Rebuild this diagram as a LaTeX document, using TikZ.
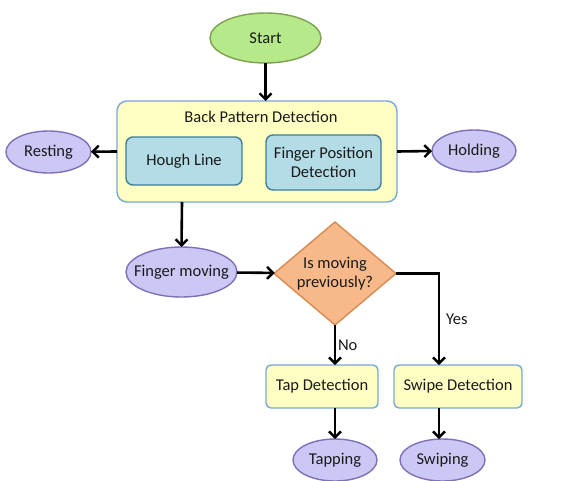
\documentclass[tikz,border=0pt]{standalone}
\usepackage{fontspec}
\setmainfont{Carlito}
\usetikzlibrary{shapes.geometric,arrows.meta}
\definecolor{startfill}{HTML}{B5E98A}
\definecolor{startdraw}{HTML}{7FA050}
\definecolor{ovfill}{HTML}{CCC8F5}
\definecolor{ovdraw}{HTML}{8070B8}
\definecolor{yfill}{HTML}{FFFFC4}
\definecolor{ydraw}{HTML}{78A8DA}
\definecolor{bfill}{HTML}{B4DCE6}
\definecolor{bdraw}{HTML}{3F7E96}
\definecolor{dfill}{HTML}{F8B98A}
\definecolor{ddraw}{HTML}{D98A50}
\definecolor{txt}{HTML}{1A1A1A}
\tikzset{
  every node/.style={font=\fontsize{16.5}{19}\selectfont, text=txt, outer sep=0pt, inner sep=1pt, align=center},
  oval/.style={ellipse, draw=ovdraw, fill=ovfill, line width=1.4pt, inner sep=0pt},
  startoval/.style={ellipse, draw=startdraw, fill=startfill, line width=1.4pt, inner sep=0pt},
  ybox/.style={rectangle, rounded corners=5pt, draw=ydraw, fill=yfill, line width=1.4pt},
  bbox/.style={rectangle, rounded corners=7pt, draw=bdraw, fill=bfill, line width=1.4pt},
  dia/.style={diamond, draw=ddraw, fill=dfill, line width=1.4pt, inner sep=0pt},
  conn/.style={line width=2.6pt, -{Straight Barb[length=6pt,width=12pt,line width=2.4pt]}},
}
\begin{document}
\begin{tikzpicture}[x=1pt,y=-1pt]
\useasboundingbox[fill=white] (0,0) rectangle (588,480);
\node[startoval, minimum width=111, minimum height=50] (start) at (265.5,38) {};
\node (startt) at (start) {Start};
\node[ybox, rounded corners=10pt, minimum width=280, minimum height=101] (bpd) at (257,151.5) {};
\node (bpdt) at (261,117) {Back Pattern Detection};
\node[bbox, minimum width=116, minimum height=48] (hough) at (184,161) {Hough Line};
\node[bbox, minimum width=115, minimum height=55] (fpd) at (323.5,162.5) {Finger Position\\Detection};
\node[oval, minimum width=85, minimum height=42] (rest) at (48.5,152) {};
\node (restt) at (rest) {Resting};
\node[oval, minimum width=84, minimum height=42] (hold) at (474,151) {};
\node (holdt) at (hold) {Holding};
\node[oval, minimum width=111, minimum height=50] (fmov) at (181.5,272) {};
\node (fmovt) at (fmov) {Finger moving};
\node[dia, minimum width=122, minimum height=103] (ismov) at (335,273.5) {};
\node (ismovt) at (ismov) {Is moving\\previously?};
\node[ybox, minimum width=112, minimum height=43] (tap) at (322,386.5) {Tap Detection};
\node[ybox, minimum width=128, minimum height=43] (swipe) at (458,386.5) {Swipe Detection};
\node[oval, minimum width=84, minimum height=42] (tapping) at (335,460) {};
\node (tappingt) at (tapping) {Tapping};
\node[oval, minimum width=85, minimum height=42] (swiping) at (442.5,460) {};
\node (swipingt) at (swiping) {Swiping};
\coordinate (yesc) at (439,273.5);
\coordinate (fmc) at (182,202);
\draw[conn] (start.south) -- (start.south |- bpd.north);
\draw[conn] (bpd.west) -- (rest);
\draw[conn] (bpd.east) -- (hold.west);
\draw[conn] (fmc) -- (fmov.north);
\draw[conn] (fmov) -- (ismov);
\draw[conn] (ismov.south) -- node[right, xshift=2pt] (nolbl) {No} (ismov.south |- tap.north);
\draw[conn] (ismov.east) -- (yesc) -- node[right, xshift=6pt, pos=0.5] (yeslbl) {Yes} (yesc |- swipe.north);
\draw[conn] (ismov.south |- tap.south) -- (tapping);
\draw[conn] (yesc |- swipe.south) -- (swiping.north -| yesc);
\end{tikzpicture}
\end{document}
